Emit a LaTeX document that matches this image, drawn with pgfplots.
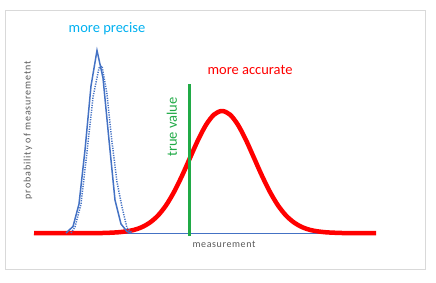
\documentclass[border=0pt]{standalone}
\usepackage{pgfplots}
\pgfplotsset{compat=1.18}
\usepackage{fontspec}
\setmainfont{Carlito}
\definecolor{xlblue}{RGB}{68,114,196}
\definecolor{xlcyan}{RGB}{0,176,240}
\definecolor{xlgreen}{RGB}{32,170,70}
\definecolor{xlgray}{RGB}{89,89,89}
\definecolor{framegray}{RGB}{217,217,217}
\begin{document}
\begin{tikzpicture}
\begin{axis}[
  scale only axis, width=436pt, height=282pt,
  xmin=0, xmax=436, ymin=0, ymax=282,
  hide axis, clip=false,
]
\path (axis cs:0,0) rectangle (axis cs:436,282);
\draw[framegray, line width=1pt] (axis cs:5,272) rectangle (axis cs:425,13);
% baseline
\addplot[xlblue, line width=1pt] coordinates {(34,48.5) (376,48.5)};
% red accurate curve
\addplot[red, line width=4.5pt, smooth, line join=round] coordinates {
(34,49) (102,49.0) (110,49.3) (118,49.7) (126,50.6) (134,52.1) (142,54.9)
(150,59.5) (158,66.5) (166,76.6) (174,90.0) (182,106.2) (190,124.1)
(198,141.9) (206,157.1) (214,167.4) (222,171) (230,167.4) (238,157.1)
(246,141.9) (254,124.1) (262,106.2) (270,90.0) (278,76.6) (286,66.5)
(294,59.5) (302,54.9) (310,52.1) (318,50.6) (326,49.7) (334,49.3)
(342,49.0) (376,49)};
% blue precise (solid)
\addplot[xlblue, line width=1.5pt] coordinates {
(66,49) (73,55.5) (79,78) (85,132) (91,196) (97,231.5) (103,204)
(109,142) (115,82) (121,58) (127,50.5) (131,49)};
% blue precise (dotted)
\addplot[xlblue, line width=1.5pt, dash pattern=on 1.2pt off 1.2pt] coordinates {
(71,49) (75,55) (81,78) (87,130) (93,185) (99,214) (102,216) (107,188)
(112,140) (117,100) (122,75) (127,54) (132,49)};
% true value
\addplot[xlgreen, line width=3pt] coordinates {(189,46) (189,198)};
\node[xlcyan, font=\fontsize{14.5}{16}\selectfont] at (axis cs:107,253) {more precise};
\node[red, font=\fontsize{14.5}{16}\selectfont] at (axis cs:250,212) {more accurate};
\node[xlgreen, rotate=90, font=\fontsize{14.5}{16}\selectfont] at (axis cs:172,155) {true value};
\node[xlgray, rotate=90, font=\fontsize{10}{12}\selectfont\addfontfeature{LetterSpace=9}] at (axis cs:28,152) {probability of measuremetnt};
\node[xlgray, font=\fontsize{10}{12}\selectfont\addfontfeature{LetterSpace=6}] at (axis cs:224,38) {measurement};
\end{axis}
\end{tikzpicture}
\end{document}
